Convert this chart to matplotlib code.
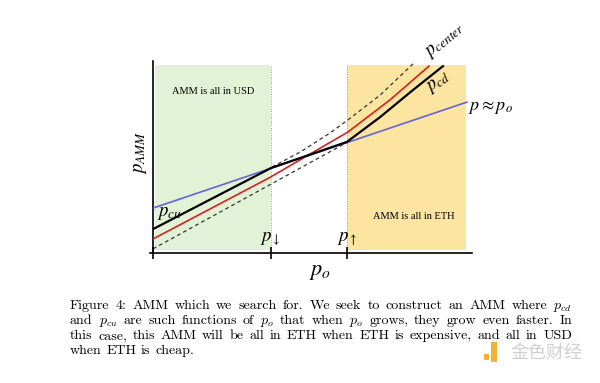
import matplotlib
matplotlib.use("Agg")
import matplotlib.pyplot as plt
from matplotlib.patches import Rectangle

# Price axis (p_o) and AMM price axis (p_AMM), arbitrary units
p_down = 3.70
p_up = 6.08
x_min, x_max = 0.0, 10.0
y_min, y_max = 0.0, 6.0

# regions
usd_region = (0.06, p_down)
eth_region = (p_up, 9.81)
region_bottom, region_top = 0.09, 5.91

# curves
blue_x = [0.0, 9.84]
blue_y = [1.41, 4.74]

black_x = [0.0, p_down, p_up, 7.12, 8.15, 9.09]
black_y = [0.75, 2.67, 3.49, 4.27, 5.12, 5.87]

red_x = [0.0, 3.64, 6.11, 7.43, 8.65]
red_y = [0.44, 2.36, 3.80, 4.81, 5.87]

upper_dash_x = [3.73, 4.61, 5.55, 6.11, 7.12, 8.15]
upper_dash_y = [2.70, 3.17, 3.77, 4.18, 4.96, 5.94]

lower_dash_x = [0.0, 6.11]
lower_dash_y = [0.13, 3.49]

caption_lines = [
    "Figure 4: AMM which we search for. We seek to construct an AMM where $p_{cd}$",
    "and $p_{cu}$ are such functions of $p_o$ that when $p_o$ grows, they grow even faster. In",
    "this case, this AMM will be all in ETH when ETH is expensive, and all in USD",
    "when ETH is cheap.",
]

W, H = 600, 383
fig = plt.figure(figsize=(6, 3.83), dpi=100)
ax = fig.add_axes([153 / W, (H - 253) / H, 319 / W, 191 / H])
ax.set_xlim(x_min, x_max)
ax.set_ylim(y_min, y_max)

ax.add_patch(Rectangle((usd_region[0], region_bottom), usd_region[1] - usd_region[0],
                       region_top - region_bottom, facecolor="#e2f2d6", edgecolor="none", zorder=0))
ax.add_patch(Rectangle((eth_region[0], region_bottom), eth_region[1] - eth_region[0],
                       region_top - region_bottom, facecolor="#fce5a0", edgecolor="none", zorder=0))
for xv in [p_down, p_up]:
    ax.plot([xv, xv], [region_bottom, region_top], color="#a0a0a0", lw=0.7, ls=(0, (1, 1.5)), zorder=1)

ax.plot(lower_dash_x, lower_dash_y, color="#333333", lw=0.9, ls=(0, (3, 2.5)), zorder=2)
ax.plot(upper_dash_x, upper_dash_y, color="#333333", lw=0.9, ls=(0, (3, 2.5)), zorder=2)
ax.plot(blue_x, blue_y, color="#6464d8", lw=1.2, zorder=3)
ax.plot(red_x, red_y, color="#d82020", lw=1.2, zorder=3)
ax.plot(black_x, black_y, color="black", lw=1.6, zorder=4)

# axes styling
for s in ["top", "right"]:
    ax.spines[s].set_visible(False)
ax.spines["left"].set_bounds(0, 6.03)
ax.spines["bottom"].set_bounds(-0.09, 10.0)
ax.spines["left"].set_linewidth(1.2)
ax.spines["bottom"].set_linewidth(1.2)
for s in ["left", "bottom"]:
    ax.spines[s].set_clip_on(False)
ax.set_xticks([0, p_down, p_up])
ax.set_xticklabels([])
ax.set_yticks([])
ax.tick_params(axis="x", direction="inout", length=8, width=1.2)

serif = "Liberation Serif"
ax.text(1.88, 5.06, "AMM is all in USD", fontsize=7.5, family=serif, ha="center", va="center")
ax.text(8.18, 1.16, "AMM is all in ETH", fontsize=7.5, family=serif, ha="center", va="center")

mkw = dict(math_fontfamily="stix", fontsize=13.5, clip_on=False)
ax.text(8.65, 6.13, r"$p_{center}$", rotation=40, rotation_mode="anchor",
        ha="left", va="baseline", **mkw)
ax.text(8.68, 5.06, r"$p_{cd}$", rotation=35, rotation_mode="anchor",
        ha="left", va="baseline", **mkw)
ax.text(9.87, 4.49, r"$p{\approx}p_o$", ha="left", va="baseline",
        math_fontfamily="stix", fontsize=13, clip_on=False)
ax.text(0.13, 1.17, r"$p_{cu}$", ha="left", va="baseline", **mkw)
ax.text(-0.41, 3.17, r"$p_{AMM}$", rotation=90, ha="center", va="center", **mkw)
ax.text(p_down - 0.03, 0.38, r"$p_{\downarrow}$", ha="center", va="baseline", **mkw)
ax.text(p_up + 0.02, 0.38, r"$p_{\uparrow}$", ha="center", va="baseline", **mkw)
ax.text(5.24, -0.6, r"$p_o$", ha="center", va="center", math_fontfamily="stix",
        fontsize=16, clip_on=False)

# caption, justified like the LaTeX original
renderer = fig.canvas.get_renderer()
cap_left, cap_right = 70, 572
cap_kw = dict(family="cmr10", math_fontfamily="cm", fontsize=10.1, va="baseline", ha="left")
space_px = 4.6
for i, line in enumerate(caption_lines):
    y_px = 309 + 15 * i
    words = line.split(" ")
    texts = [fig.text(0, 1 - y_px / H, w, **cap_kw) for w in words]
    widths = [t.get_window_extent(renderer).width for t in texts]
    if i < len(caption_lines) - 1:
        gap = (cap_right - cap_left - sum(widths)) / (len(words) - 1)
    else:
        gap = space_px
    x = cap_left
    for t, w in zip(texts, widths):
        t.set_x(x / W)
        x += w + gap

# watermark
fig.text(510 / W, 1 - 353 / H, "金色财经", family="Noto Sans CJK SC", fontsize=13,
         color="#d0d0d0", ha="left", va="center")
fig.patches.append(Rectangle((484 / W, 1 - 360 / H), 5 / W, 6 / H, transform=fig.transFigure,
                             facecolor="#f2b233", edgecolor="none"))
fig.patches.append(Rectangle((491 / W, 1 - 362 / H), 6 / W, 20 / H, transform=fig.transFigure,
                             facecolor="#f2b233", edgecolor="none"))

fig.savefig("out.png", dpi=100)
